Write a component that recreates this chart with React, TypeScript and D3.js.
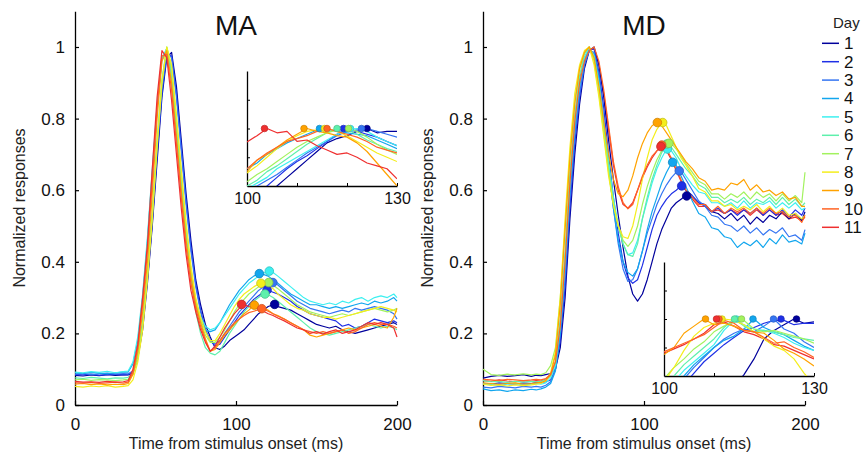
import React, { useEffect, useRef } from 'react';
import * as d3 from 'd3';

// time grid (ms) shared by every curve of both panels
const tGrid = [0, 5, 10, 15, 20, 25, 30,
  33, 36, 39, 42, 45, 48, 51, 54, 57, 60, 63, 66, 69, 72, 75, 78, 81,
  84, 87, 90, 93, 96, 99, 102, 105, 108, 111, 114, 117, 120, 123, 126,
  130, 134, 138, 142, 146, 150, 154, 158, 162, 166, 170, 174, 178, 182, 186, 190, 194, 198, 200];

// inset time grid (ms)
const insetT = [100, 102, 104, 106, 108, 110, 112, 114, 116, 118, 120, 122, 124, 126, 128, 130];

const days = [1, 2, 3, 4, 5, 6, 7, 8, 9, 10, 11];
const dayColors = ['#00009c', '#1f30e6', '#3575f2', '#12a6ee', '#3ef0f0', '#5ef0ac',
  '#a2f25e', '#f4ee1c', '#ffa200', '#ff6424', '#ef3030'];

// MA normalized responses, one array per day
const maCurves = [
  [0.083, 0.081, 0.084, 0.082, 0.085, 0.083, 0.084,
    0.084, 0.09, 0.13, 0.21, 0.34, 0.5, 0.68, 0.86, 0.97, 0.985, 0.89, 0.74, 0.59, 0.46, 0.35, 0.28, 0.225,
    0.19, 0.16, 0.155, 0.165, 0.18, 0.19, 0.2, 0.21, 0.225, 0.24, 0.255, 0.265, 0.275, 0.28, 0.275,
    0.27, 0.265, 0.255, 0.245, 0.235, 0.225, 0.22, 0.215, 0.22, 0.21, 0.205, 0.2, 0.205, 0.21, 0.215, 0.22, 0.225, 0.23, 0.225],
  [0.085, 0.084, 0.086, 0.083, 0.085, 0.086, 0.084,
    0.085, 0.092, 0.135, 0.22, 0.35, 0.51, 0.7, 0.87, 0.98, 0.975, 0.87, 0.72, 0.57, 0.44, 0.34, 0.265, 0.21,
    0.18, 0.165, 0.17, 0.19, 0.21, 0.23, 0.25, 0.265, 0.28, 0.295, 0.305, 0.315, 0.32, 0.315, 0.31,
    0.3, 0.29, 0.275, 0.265, 0.255, 0.25, 0.245, 0.24, 0.235, 0.22, 0.225, 0.215, 0.22, 0.23, 0.24, 0.235, 0.23, 0.235, 0.23],
  [0.086, 0.088, 0.085, 0.087, 0.089, 0.086, 0.088,
    0.087, 0.095, 0.14, 0.23, 0.36, 0.52, 0.71, 0.88, 0.985, 0.97, 0.86, 0.71, 0.56, 0.43, 0.33, 0.26, 0.21,
    0.18, 0.17, 0.18, 0.2, 0.22, 0.24, 0.26, 0.275, 0.29, 0.305, 0.32, 0.33, 0.338, 0.342, 0.335,
    0.32, 0.305, 0.29, 0.28, 0.27, 0.265, 0.26, 0.255, 0.26, 0.265, 0.26, 0.27, 0.265, 0.27, 0.275, 0.27, 0.265, 0.255, 0.24],
  [0.09, 0.088, 0.091, 0.089, 0.087, 0.09, 0.092,
    0.092, 0.115, 0.18, 0.3, 0.46, 0.65, 0.83, 0.965, 0.995, 0.91, 0.76, 0.61, 0.47, 0.36, 0.28, 0.235, 0.21,
    0.205, 0.21, 0.23, 0.255, 0.28, 0.3, 0.32, 0.335, 0.35, 0.36, 0.367, 0.365, 0.36, 0.35, 0.34,
    0.325, 0.31, 0.3, 0.29, 0.28, 0.28, 0.275, 0.27, 0.275, 0.27, 0.275, 0.28, 0.285, 0.28, 0.29, 0.285, 0.29, 0.3, 0.29],
  [0.092, 0.09, 0.093, 0.091, 0.094, 0.09, 0.093,
    0.095, 0.12, 0.19, 0.31, 0.47, 0.66, 0.84, 0.97, 0.995, 0.91, 0.77, 0.62, 0.48, 0.37, 0.29, 0.245, 0.22,
    0.21, 0.215, 0.23, 0.25, 0.27, 0.29, 0.31, 0.325, 0.34, 0.35, 0.36, 0.368, 0.374, 0.37, 0.36,
    0.345, 0.33, 0.315, 0.3, 0.29, 0.285, 0.28, 0.285, 0.28, 0.29, 0.285, 0.295, 0.3, 0.29, 0.3, 0.305, 0.3, 0.31, 0.3],
  [0.076, 0.074, 0.077, 0.075, 0.073, 0.076, 0.075,
    0.077, 0.09, 0.14, 0.23, 0.37, 0.54, 0.74, 0.91, 1.0, 0.93, 0.78, 0.62, 0.47, 0.35, 0.26, 0.2, 0.16,
    0.145, 0.14, 0.15, 0.175, 0.2, 0.22, 0.24, 0.26, 0.275, 0.29, 0.3, 0.31, 0.308, 0.3, 0.29,
    0.275, 0.26, 0.245, 0.23, 0.215, 0.205, 0.2, 0.195, 0.2, 0.205, 0.21, 0.215, 0.22, 0.225, 0.22, 0.215, 0.22, 0.215, 0.21],
  [0.07, 0.072, 0.069, 0.071, 0.07, 0.068, 0.07,
    0.072, 0.085, 0.13, 0.22, 0.36, 0.53, 0.73, 0.9, 1.0, 0.94, 0.8, 0.65, 0.5, 0.38, 0.29, 0.235, 0.195,
    0.175, 0.175, 0.19, 0.21, 0.235, 0.26, 0.28, 0.295, 0.31, 0.32, 0.33, 0.338, 0.342, 0.335, 0.325,
    0.31, 0.295, 0.28, 0.27, 0.26, 0.255, 0.25, 0.245, 0.25, 0.255, 0.25, 0.255, 0.26, 0.265, 0.27, 0.265, 0.26, 0.265, 0.27],
  [0.052, 0.05, 0.053, 0.051, 0.054, 0.05, 0.052,
    0.054, 0.07, 0.12, 0.21, 0.35, 0.52, 0.72, 0.9, 1.0, 0.95, 0.81, 0.66, 0.51, 0.39, 0.3, 0.245, 0.205,
    0.18, 0.18, 0.2, 0.225, 0.25, 0.275, 0.295, 0.31, 0.32, 0.33, 0.338, 0.34, 0.335, 0.325, 0.31,
    0.295, 0.28, 0.27, 0.265, 0.255, 0.25, 0.245, 0.245, 0.24, 0.245, 0.25, 0.255, 0.26, 0.265, 0.27, 0.275, 0.27, 0.265, 0.26],
  [0.058, 0.06, 0.057, 0.059, 0.056, 0.058, 0.057,
    0.06, 0.085, 0.15, 0.26, 0.4, 0.59, 0.8, 0.96, 0.99, 0.9, 0.75, 0.6, 0.46, 0.36, 0.28, 0.23, 0.185,
    0.15, 0.155, 0.175, 0.195, 0.21, 0.225, 0.24, 0.255, 0.265, 0.278, 0.275, 0.27, 0.265, 0.255, 0.25,
    0.24, 0.23, 0.22, 0.21, 0.195, 0.19, 0.195, 0.2, 0.205, 0.21, 0.215, 0.21, 0.215, 0.22, 0.225, 0.22, 0.215, 0.245, 0.27],
  [0.062, 0.061, 0.063, 0.06, 0.062, 0.064, 0.061,
    0.064, 0.09, 0.16, 0.28, 0.43, 0.62, 0.83, 0.975, 0.98, 0.88, 0.73, 0.58, 0.44, 0.34, 0.27, 0.22, 0.18,
    0.15, 0.16, 0.18, 0.2, 0.215, 0.23, 0.24, 0.25, 0.258, 0.262, 0.266, 0.268, 0.262, 0.255, 0.248,
    0.24, 0.23, 0.22, 0.21, 0.205, 0.2, 0.205, 0.2, 0.205, 0.21, 0.2, 0.205, 0.215, 0.225, 0.23, 0.225, 0.225, 0.22, 0.215],
  [0.066, 0.064, 0.065, 0.063, 0.066, 0.064, 0.065,
    0.068, 0.1, 0.17, 0.3, 0.45, 0.66, 0.86, 0.99, 0.97, 0.85, 0.7, 0.55, 0.42, 0.32, 0.26, 0.21, 0.175,
    0.15, 0.165, 0.19, 0.215, 0.235, 0.255, 0.27, 0.28, 0.275, 0.272, 0.268, 0.262, 0.255, 0.25, 0.243,
    0.235, 0.225, 0.215, 0.21, 0.2, 0.205, 0.198, 0.205, 0.21, 0.2, 0.205, 0.21, 0.22, 0.23, 0.225, 0.23, 0.225, 0.215, 0.19],
];

// MD normalized responses, one array per day
const mdCurves = [
  [0.075, 0.08, 0.083, 0.08, 0.082, 0.085, 0.08,
    0.083, 0.082, 0.085, 0.088, 0.1, 0.16, 0.3, 0.52, 0.7, 0.84, 0.94, 0.99, 1.0, 0.95, 0.86, 0.74, 0.63,
    0.53, 0.44, 0.36, 0.31, 0.29, 0.31, 0.35, 0.4, 0.45, 0.49, 0.52, 0.55, 0.565, 0.575, 0.585,
    0.58, 0.565, 0.56, 0.54, 0.535, 0.52, 0.535, 0.515, 0.53, 0.505, 0.525, 0.51, 0.53, 0.52, 0.54, 0.52, 0.535, 0.515, 0.54],
  [0.06, 0.058, 0.062, 0.06, 0.058, 0.062, 0.06,
    0.063, 0.062, 0.065, 0.07, 0.1, 0.18, 0.33, 0.55, 0.73, 0.86, 0.95, 0.99, 0.995, 0.93, 0.83, 0.7, 0.58,
    0.48, 0.4, 0.355, 0.34, 0.35, 0.39, 0.44, 0.49, 0.53, 0.555, 0.575, 0.59, 0.6, 0.612, 0.6,
    0.585, 0.565, 0.555, 0.54, 0.55, 0.535, 0.545, 0.53, 0.545, 0.535, 0.55, 0.53, 0.545, 0.53, 0.545, 0.525, 0.545, 0.53, 0.55],
  [0.05, 0.048, 0.052, 0.05, 0.048, 0.052, 0.05,
    0.052, 0.05, 0.055, 0.065, 0.1, 0.2, 0.36, 0.58, 0.75, 0.87, 0.95, 0.99, 0.985, 0.92, 0.8, 0.67, 0.55,
    0.45, 0.38, 0.345, 0.35, 0.38, 0.43, 0.48, 0.52, 0.56, 0.59, 0.615, 0.635, 0.65, 0.652, 0.63,
    0.6, 0.57, 0.555, 0.53, 0.525, 0.505, 0.5, 0.485, 0.5, 0.48, 0.495, 0.475, 0.49, 0.48, 0.495, 0.47, 0.475, 0.46, 0.49],
  [0.045, 0.04, 0.042, 0.038, 0.042, 0.04, 0.044,
    0.042, 0.045, 0.05, 0.06, 0.095, 0.2, 0.38, 0.6, 0.77, 0.89, 0.96, 0.995, 0.98, 0.91, 0.79, 0.66, 0.55,
    0.46, 0.4, 0.37, 0.36, 0.38, 0.43, 0.49, 0.54, 0.58, 0.62, 0.65, 0.675, 0.67, 0.64, 0.61,
    0.57, 0.535, 0.525, 0.495, 0.49, 0.47, 0.465, 0.44, 0.455, 0.445, 0.46, 0.44, 0.465, 0.45, 0.475, 0.455, 0.46, 0.45, 0.48],
  [0.06, 0.058, 0.055, 0.058, 0.06, 0.056, 0.058,
    0.06, 0.058, 0.062, 0.075, 0.11, 0.22, 0.4, 0.62, 0.79, 0.9, 0.97, 1.0, 0.975, 0.9, 0.79, 0.68, 0.58,
    0.5, 0.45, 0.42, 0.425, 0.46, 0.52, 0.57, 0.62, 0.66, 0.69, 0.715, 0.71, 0.69, 0.66, 0.64,
    0.615, 0.595, 0.59, 0.565, 0.565, 0.555, 0.565, 0.55, 0.57, 0.55, 0.565, 0.56, 0.57, 0.55, 0.565, 0.55, 0.565, 0.545, 0.55],
  [0.068, 0.065, 0.066, 0.063, 0.066, 0.064, 0.066,
    0.065, 0.066, 0.07, 0.08, 0.12, 0.24, 0.43, 0.65, 0.81, 0.92, 0.98, 1.0, 0.97, 0.89, 0.78, 0.67, 0.57,
    0.5, 0.45, 0.42, 0.415, 0.45, 0.52, 0.58, 0.63, 0.67, 0.705, 0.729, 0.72, 0.7, 0.68, 0.66,
    0.64, 0.615, 0.605, 0.58, 0.58, 0.565, 0.575, 0.565, 0.58, 0.56, 0.575, 0.565, 0.58, 0.56, 0.58, 0.56, 0.575, 0.555, 0.565],
  [0.1, 0.085, 0.083, 0.086, 0.084, 0.087, 0.084,
    0.086, 0.085, 0.09, 0.11, 0.16, 0.3, 0.5, 0.7, 0.85, 0.94, 0.985, 1.0, 0.96, 0.87, 0.76, 0.65, 0.56,
    0.5, 0.46, 0.443, 0.46, 0.5, 0.56, 0.61, 0.65, 0.685, 0.71, 0.725, 0.73, 0.715, 0.695, 0.675,
    0.65, 0.625, 0.615, 0.59, 0.59, 0.575, 0.59, 0.58, 0.595, 0.575, 0.595, 0.58, 0.59, 0.57, 0.59, 0.57, 0.585, 0.565, 0.65],
  [0.058, 0.055, 0.056, 0.053, 0.056, 0.054, 0.056,
    0.058, 0.06, 0.068, 0.09, 0.15, 0.3, 0.52, 0.72, 0.87, 0.95, 0.99, 1.0, 0.95, 0.86, 0.75, 0.64, 0.56,
    0.5, 0.47, 0.465, 0.5, 0.56, 0.63, 0.69, 0.74, 0.77, 0.789, 0.78, 0.75, 0.72, 0.69, 0.67,
    0.64, 0.605, 0.595, 0.57, 0.57, 0.555, 0.56, 0.545, 0.555, 0.545, 0.56, 0.54, 0.555, 0.535, 0.55, 0.53, 0.535, 0.52, 0.53],
  [0.062, 0.06, 0.058, 0.06, 0.062, 0.058, 0.06,
    0.062, 0.063, 0.068, 0.085, 0.14, 0.28, 0.49, 0.69, 0.84, 0.94, 0.985, 1.0, 0.97, 0.89, 0.79, 0.7, 0.63,
    0.59, 0.582, 0.6, 0.64, 0.69, 0.73, 0.76, 0.78, 0.789, 0.78, 0.76, 0.74, 0.72, 0.7, 0.68,
    0.66, 0.635, 0.625, 0.6, 0.605, 0.6, 0.62, 0.615, 0.63, 0.6, 0.615, 0.595, 0.6, 0.585, 0.595, 0.575, 0.58, 0.555, 0.555],
  [0.072, 0.07, 0.068, 0.072, 0.07, 0.068, 0.07,
    0.072, 0.07, 0.074, 0.085, 0.12, 0.22, 0.4, 0.62, 0.79, 0.9, 0.96, 0.99, 1.0, 0.96, 0.88, 0.78, 0.68,
    0.61, 0.565, 0.548, 0.56, 0.6, 0.64, 0.67, 0.695, 0.71, 0.726, 0.715, 0.69, 0.66, 0.63, 0.6,
    0.58, 0.56, 0.56, 0.54, 0.555, 0.535, 0.55, 0.54, 0.55, 0.535, 0.55, 0.535, 0.55, 0.535, 0.54, 0.525, 0.53, 0.51, 0.53],
  [0.068, 0.066, 0.07, 0.067, 0.065, 0.068, 0.066,
    0.068, 0.067, 0.072, 0.085, 0.12, 0.23, 0.41, 0.63, 0.8, 0.91, 0.97, 0.995, 0.995, 0.95, 0.87, 0.77, 0.67,
    0.6, 0.56, 0.55, 0.565, 0.6, 0.635, 0.665, 0.69, 0.71, 0.72, 0.71, 0.685, 0.655, 0.625, 0.6,
    0.575, 0.555, 0.555, 0.54, 0.545, 0.535, 0.545, 0.535, 0.545, 0.53, 0.545, 0.53, 0.545, 0.53, 0.535, 0.52, 0.525, 0.515, 0.525],
];

// second-peak markers (time ms, value)
const maPeakT = [124, 119.3, 122.9, 114.5, 120.7, 118, 120.3, 115.5, 111.4, 116, 103.5];
const maPeakV = [0.281, 0.321, 0.342, 0.367, 0.374, 0.31, 0.342, 0.34, 0.279, 0.269, 0.281];
const mdPeakT = [126.5, 123.4, 121.9, 117.8, 114.5, 114.1, 115.5, 111.6, 108.3, 111, 110.5];
const mdPeakV = [0.584, 0.612, 0.654, 0.678, 0.715, 0.729, 0.731, 0.789, 0.789, 0.726, 0.722];

// insets: responses 100-130 ms normalized to the second peak
const maInset = [
  [0.7, 0.73, 0.77, 0.8, 0.83, 0.86, 0.89, 0.92, 0.95, 0.965, 0.975, 0.99, 1.0, 0.985, 0.99, 0.99],
  [0.74, 0.77, 0.8, 0.83, 0.86, 0.885, 0.905, 0.93, 0.955, 0.98, 0.995, 0.99, 0.98, 0.97, 0.955, 0.94],
  [0.79, 0.8, 0.82, 0.84, 0.865, 0.89, 0.915, 0.935, 0.955, 0.975, 0.99, 0.995, 1.0, 0.99, 0.98, 0.97],
  [0.86, 0.88, 0.91, 0.93, 0.95, 0.965, 0.98, 0.995, 0.998, 0.99, 0.985, 0.98, 0.975, 0.96, 0.945, 0.93],
  [0.79, 0.81, 0.83, 0.86, 0.88, 0.9, 0.92, 0.94, 0.96, 0.98, 0.995, 1.0, 0.99, 0.97, 0.955, 0.94],
  [0.8, 0.82, 0.85, 0.87, 0.895, 0.92, 0.945, 0.965, 0.985, 1.0, 0.995, 0.98, 0.96, 0.945, 0.93, 0.92],
  [0.815, 0.84, 0.86, 0.885, 0.91, 0.935, 0.955, 0.97, 0.985, 0.995, 1.0, 0.99, 0.97, 0.945, 0.925, 0.91],
  [0.845, 0.87, 0.9, 0.93, 0.955, 0.975, 0.99, 0.995, 1.0, 0.99, 0.975, 0.955, 0.935, 0.915, 0.9, 0.885],
  [0.85, 0.89, 0.91, 0.935, 0.96, 0.98, 1.0, 0.99, 0.985, 0.975, 0.97, 0.95, 0.92, 0.88, 0.84, 0.8],
  [0.86, 0.89, 0.915, 0.935, 0.955, 0.965, 0.975, 0.99, 1.0, 0.99, 0.98, 0.97, 0.955, 0.935, 0.925, 0.915],
  [0.953, 0.975, 1.0, 0.985, 0.99, 0.955, 0.96, 0.94, 0.925, 0.91, 0.915, 0.9, 0.88, 0.87, 0.86, 0.825],
];
const mdInset = [
  [0.55, 0.59, 0.62, 0.65, 0.68, 0.71, 0.74, 0.76, 0.805, 0.86, 0.93, 0.96, 0.98, 1.0, 0.985, 0.99],
  [0.66, 0.72, 0.77, 0.81, 0.85, 0.88, 0.91, 0.935, 0.96, 0.97, 0.985, 0.995, 0.995, 0.98, 0.985, 0.985],
  [0.7, 0.74, 0.79, 0.83, 0.865, 0.9, 0.93, 0.95, 0.965, 0.955, 0.975, 1.0, 0.965, 0.95, 0.92, 0.9],
  [0.72, 0.76, 0.8, 0.84, 0.87, 0.9, 0.925, 0.94, 0.965, 1.0, 0.97, 0.955, 0.945, 0.925, 0.905, 0.89],
  [0.74, 0.78, 0.82, 0.85, 0.88, 0.91, 0.96, 0.995, 0.98, 0.965, 0.96, 0.95, 0.935, 0.915, 0.9, 0.89],
  [0.77, 0.8, 0.84, 0.87, 0.9, 0.93, 0.97, 1.0, 0.975, 0.955, 0.96, 0.955, 0.945, 0.935, 0.93, 0.925],
  [0.79, 0.83, 0.86, 0.895, 0.92, 0.955, 0.975, 0.99, 0.995, 0.965, 0.955, 0.96, 0.95, 0.94, 0.93, 0.915],
  [0.78, 0.83, 0.89, 0.94, 0.97, 0.985, 1.0, 0.995, 0.98, 0.955, 0.93, 0.905, 0.89, 0.86, 0.81, 0.77],
  [0.875, 0.9, 0.95, 0.975, 1.0, 0.98, 0.985, 0.975, 0.96, 0.955, 0.95, 0.925, 0.895, 0.88, 0.86, 0.835],
  [0.885, 0.9, 0.915, 0.93, 0.945, 0.97, 0.995, 0.985, 0.96, 0.955, 0.935, 0.915, 0.92, 0.9, 0.885, 0.865],
  [0.88, 0.895, 0.91, 0.93, 0.95, 0.98, 0.99, 0.975, 0.955, 0.945, 0.93, 0.91, 0.905, 0.89, 0.875, 0.86],
];

const yTicks = [0, 0.2, 0.4, 0.6, 0.8, 1];
const xTicks = [0, 100, 200];
const insetXTicks = [100, 110, 120, 130];
const insetYTicks = [0.9, 1.0, 1.1];

const panels = [
  { title: 'MA', left: 75, curves: maCurves, peakT: maPeakT, peakV: maPeakV, inset: maInset,
    order: [0, 1, 2, 3, 4, 5, 6, 7, 8, 9, 10],
    box: { x0: 247, x1: 397, y0: 71, y1: 186 } },
  { title: 'MD', left: 483, curves: mdCurves, peakT: mdPeakT, peakV: mdPeakV, inset: mdInset,
    // day 11 sits underneath day 10 here
    order: [10, 0, 1, 2, 3, 4, 5, 6, 7, 8, 9],
    box: { x0: 664, x1: 814, y0: 262, y1: 376 } },
];

const FONT = '"Liberation Sans", Arial, Helvetica, sans-serif';

export default function App() {
  const ref = useRef<SVGSVGElement>(null);

  useEffect(() => {
    const svg = d3.select(ref.current);
    svg.selectAll('*').remove();

    const y = d3.scaleLinear().domain([0, 1.1]).range([405, 11.2]);

    panels.forEach((p, pi) => {
      const x = d3.scaleLinear().domain([0, 200]).range([p.left, p.left + 322]);
      const g = svg.append('g');

      // axes
      const yAxis = g.append('g')
        .attr('transform', `translate(${p.left},0)`)
        .call(d3.axisLeft(y).tickValues(yTicks).tickSize(-4).tickSizeOuter(0).tickPadding(10)
          .tickFormat(d => String(d)));
      const xAxis = g.append('g')
        .attr('transform', `translate(0,${y(0)})`)
        .call(d3.axisBottom(x).tickValues(xTicks).tickSize(-4).tickSizeOuter(0).tickPadding(13)
          .tickFormat(d => String(d)));
      [yAxis, xAxis].forEach(a => {
        a.attr('font-size', 17).attr('font-family', FONT);
        a.select('.domain').attr('stroke-width', 1.3);
        a.selectAll('.tick line').attr('stroke-width', 1.2);
        a.selectAll('text').attr('fill', '#111');
      });

      // titles
      const cx = (p.left + p.left + 322) / 2;
      g.append('text').attr('x', cx).attr('y', 35).attr('text-anchor', 'middle')
        .attr('font-family', FONT).attr('font-size', 28).attr('fill', '#111').text(p.title);
      g.append('text').attr('x', cx).attr('y', 449).attr('text-anchor', 'middle')
        .attr('font-family', FONT).attr('font-size', 16).attr('fill', '#222')
        .text('Time from stimulus onset (ms)');
      g.append('text')
        .attr('transform', `translate(${p.left - 50},208) rotate(-90)`)
        .attr('text-anchor', 'middle')
        .attr('font-family', FONT).attr('font-size', 16).attr('fill', '#222')
        .text('Normalized responses');

      // curves
      const line = d3.line<number>().x((_, i) => x(tGrid[i])).y(d => y(d));
      p.order.forEach(i => {
        g.append('path').datum(p.curves[i]).attr('d', line)
          .attr('fill', 'none').attr('stroke', dayColors[i]).attr('stroke-width', 1.2)
          .attr('stroke-linejoin', 'round');
      });

      // peak markers
      days.forEach((_, i) => {
        g.append('circle')
          .attr('cx', x(p.peakT[i])).attr('cy', y(p.peakV[i])).attr('r', 4.3)
          .attr('fill', dayColors[i])
          .attr('stroke', d3.color(dayColors[i])!.darker(0.6).toString())
          .attr('stroke-width', 0.8);
      });

      // inset
      const b = p.box;
      const ix = d3.scaleLinear().domain([100, 130]).range([b.x0, b.x1]);
      const iy = d3.scaleLinear().domain([0.8, 1.2]).range([b.y1, b.y0]);
      const clipId = 'clip-inset-' + pi;
      svg.append('clipPath').attr('id', clipId).append('rect')
        .attr('x', b.x0).attr('y', b.y0).attr('width', b.x1 - b.x0).attr('height', b.y1 - b.y0);

      const ig = g.append('g');
      const iYAxis = ig.append('g').attr('transform', `translate(${b.x0},0)`)
        .call(d3.axisLeft(iy).tickValues(insetYTicks).tickSize(-3).tickSizeOuter(0).tickFormat(() => ''));
      const iXAxis = ig.append('g').attr('transform', `translate(0,${b.y1})`)
        .call(d3.axisBottom(ix).tickValues(insetXTicks).tickSize(-3).tickSizeOuter(0).tickPadding(7)
          .tickFormat(d => (d === 100 || d === 130 ? String(d) : '')));
      [iYAxis, iXAxis].forEach(a => {
        a.attr('font-size', 16).attr('font-family', FONT);
        a.select('.domain').attr('stroke-width', 1.3);
        a.selectAll('text').attr('fill', '#111');
      });

      const iline = d3.line<number>().x((_, i) => ix(insetT[i])).y(d => iy(d));
      const lines = ig.append('g').attr('clip-path', `url(#${clipId})`);
      p.order.forEach(i => {
        lines.append('path').datum(p.inset[i]).attr('d', iline)
          .attr('fill', 'none').attr('stroke', dayColors[i]).attr('stroke-width', 1.2)
          .attr('stroke-linejoin', 'round');
      });
      days.forEach((_, i) => {
        ig.append('circle')
          .attr('cx', ix(p.peakT[i])).attr('cy', iy(1.0)).attr('r', 3.3)
          .attr('fill', dayColors[i])
          .attr('stroke', d3.color(dayColors[i])!.darker(0.6).toString())
          .attr('stroke-width', 0.7);
      });
    });

    // legend
    const lg = svg.append('g');
    lg.append('text').attr('x', 833).attr('y', 28)
      .attr('font-family', FONT).attr('font-size', 15).attr('fill', '#222').text('Day');
    days.forEach((d, i) => {
      const ly = 43.3 + i * 18.4;
      lg.append('line').attr('x1', 822).attr('x2', 839).attr('y1', ly).attr('y2', ly)
        .attr('stroke', dayColors[i]).attr('stroke-width', 1.5);
      lg.append('text').attr('x', 844).attr('y', ly).attr('dy', '0.35em')
        .attr('font-family', FONT).attr('font-size', 17).attr('fill', '#111').text(String(d));
    });
  }, []);

  return (
    <svg ref={ref} width={866} height={456}
      style={{ position: 'absolute', left: 0, top: 0, background: '#fff' }} />
  );
}
